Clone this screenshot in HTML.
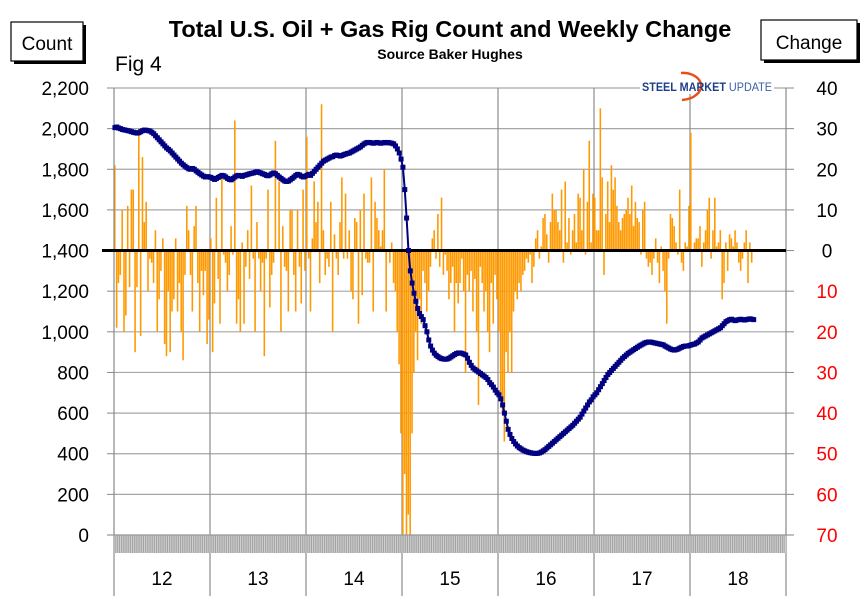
<!DOCTYPE html>
<html><head><meta charset="utf-8"><style>
body{margin:0;background:#fff;width:865px;height:603px;overflow:hidden;font-family:"Liberation Sans",Arial,sans-serif}
svg{display:block}
</style></head><body>
<svg id="chart" width="865" height="603" xmlns="http://www.w3.org/2000/svg">
<g id="grid"></g>
<g id="bars"></g>
<g id="axes"></g>
<g id="line"></g>
<text x="450" y="37" text-anchor="middle" font-size="23.5" font-weight="bold">Total U.S. Oil + Gas Rig Count and Weekly Change</text>
<text x="450" y="59" text-anchor="middle" font-size="14" font-weight="bold">Source Baker Hughes</text>
<text x="115" y="71" font-size="21">Fig 4</text>
<g>
<rect x="14" y="25" width="72" height="39" fill="#000"/>
<rect x="11" y="22" width="72" height="39" fill="#fff" stroke="#000" stroke-width="1.2"/>
<text x="47" y="50" text-anchor="middle" font-size="19">Count</text></g>
<g>
<rect x="764" y="23" width="96" height="40" fill="#000"/>
<rect x="761" y="20" width="96" height="40" fill="#fff" stroke="#000" stroke-width="1.2"/>
<text x="809" y="49" text-anchor="middle" font-size="19">Change</text></g>
<g id="logo">
<rect x="640" y="78" width="134" height="16" fill="#fff"/>
<path d="M681 73 A18 13 0 0 1 696 95 A20 10 0 0 1 682 100" fill="none" stroke="#e8501a" stroke-width="2.5"/>
<text x="642" y="91" font-size="11.5" font-weight="bold" fill="#1d3f8a" textLength="130" lengthAdjust="spacingAndGlyphs">STEEL MARKET <tspan font-weight="normal" fill="#3a5fa8">UPDATE</tspan></text></g>
</svg>
<script>
const years=["12","13","14","15","16","17","18"];
const leftTicks=[0,200,400,600,800,1000,1200,1400,1600,1800,2000,2200];
const rightTicks=[40,30,20,10,0,-10,-20,-30,-40,-50,-60,-70];
const rigCount=[
2005,2008,2003,2000,1996,1994,1992,1990,1988,1985,1982,1980,1978,1980,1985,1990,1993,1992,1990,1988,1982,1975,1965,1955,1945,1935,1925,1915,1905,1898,1890,1880,1870,1860,1850,1840,1830,1822,1815,1808,1802,1800,1804,1800,1792,1785,1778,1772,1766,1762,1764,1762,
1760,1755,1750,1755,1760,1765,1770,1768,1762,1755,1750,1748,1755,1762,1768,1770,1768,1765,1770,1772,1775,1778,1780,1782,1785,1788,1785,1782,1778,1775,1770,1768,1772,1778,1782,1778,1770,1762,1755,1748,1742,1740,1742,1748,1755,1762,1770,1775,1772,1766,1762,1765,
1770,1775,1770,1780,1790,1800,1810,1820,1830,1840,1845,1850,1855,1860,1862,1868,1870,1868,1865,1868,1872,1875,1878,1880,1885,1890,1895,1900,1905,1910,1918,1925,1930,1932,1932,1930,1928,1930,1932,1930,1928,1930,1932,1930,1932,1930,1928,1925,1915,1900,1880,1850,
1810,1700,1560,1400,1300,1240,1190,1150,1115,1090,1075,1060,1030,1000,960,930,910,895,885,878,872,868,866,865,866,870,876,882,888,893,896,896,894,890,886,870,850,835,822,815,808,802,795,788,782,775,765,750,740,728,713,700,
690,670,640,600,560,520,495,475,460,448,438,430,424,418,414,410,407,405,403,402,401,402,404,408,414,420,428,436,444,452,460,468,476,484,492,500,508,516,524,532,540,550,560,570,580,595,610,625,640,655,665,680,
690,700,715,730,745,760,775,790,800,810,820,830,840,850,860,870,878,886,894,900,906,912,918,924,930,935,940,945,948,950,950,948,946,944,942,940,938,936,930,925,920,915,912,910,912,915,920,924,928,930,930,932,
935,938,940,945,950,960,970,975,980,985,990,995,1000,1005,1010,1015,1020,1030,1040,1050,1055,1060,1062,1058,1055,1058,1060,1062,1060,1058,1060,1062,1064,1062,1060];
const weeklyChange=[
21,-19,-8,-6,10,-20,-16,11,-9,15,15,-25,-9,30,-21,23,7,12,-10,-2,-3,-8,5,-20,-12,-5,3,-23,-26,-10,-25,-15,-12,3,-15,-8,-20,-27,-6,11,5,-6,-15,6,11,-8,-20,-5,-11,-5,-23,-17,
3,-25,-13,13,-7,-18,19,-1,-3,-10,-6,6,-1,32,-18,-12,-20,2,-18,-4,5,-7,16,-2,-20,7,-2,-10,-3,-26,-2,15,-14,-6,-3,27,0,17,-20,6,-4,-5,-15,10,10,-6,-15,10,-4,-13,15,-5,
28,-2,-15,3,17,7,12,-8,36,5,-6,-2,-4,12,-20,4,-2,-6,7,18,-2,14,-2,5,-10,-12,8,7,-18,10,-11,14,-2,-3,-3,18,-15,12,8,5,1,5,20,-15,0,-3,2,-8,-10,-20,-28,-45,
-70,-55,-70,-65,-70,-45,-30,-20,-27,-12,-18,-5,-8,-15,-10,-4,3,5,-2,9,-4,13,-6,-1,-5,-12,-8,-4,-20,-8,-13,-8,-2,-10,-30,-6,-10,-5,-15,-7,-20,-38,-4,-8,-15,-10,-20,-25,-8,-18,-6,-12,
-20,-35,-40,-47,-25,-30,-20,-30,-15,-10,-12,-8,-10,-6,-5,-2,-3,-1,-8,-4,3,5,-2,1,8,9,4,-3,7,14,10,10,7,5,15,-3,17,2,8,-1,5,9,2,14,13,5,20,-1,12,27,2,14,
13,5,5,35,18,-6,9,17,7,21,15,18,11,7,5,8,9,10,13,9,16,6,12,8,7,-1,10,12,-2,-4,-3,-6,-2,3,-3,-8,1,-5,-10,-18,-2,9,8,6,2,-1,15,-3,-5,2,1,11,
29,0,2,3,3,6,-4,2,5,10,13,-2,5,13,1,2,5,-12,-8,2,-5,4,3,1,5,2,-3,-5,-2,2,5,-8,2,-3];

const NS="http://www.w3.org/2000/svg";
const X0=114,X1=786,YT=88,YB=535,WPY=52;
const yearW=(X1-X0)/years.length;
const xw=i=>X0+(i+0.5)*yearW/WPY;
const yL=v=>YB-(v/2200)*(YB-YT);
const yR=v=>YT+((40-v)/110)*(YB-YT);
function mk(tag,attrs,parent){const e=document.createElementNS(NS,tag);for(const k in attrs)e.setAttribute(k,attrs[k]);parent.appendChild(e);return e;}
const grid=document.getElementById('grid'),axes=document.getElementById('axes'),bars=document.getElementById('bars'),line=document.getElementById('line');
leftTicks.forEach(v=>{const y=yL(v);
 if(v>0){const g=mk('line',{x1:X0,x2:X1,y1:y,y2:y,stroke:'#a6a6a6','stroke-width':1.2},grid);
 
 }
 mk('line',{x1:X0-7,x2:X0,y1:y,y2:y,stroke:'#888'},axes);
 const t=mk('text',{x:X0-25,y:y+7,'text-anchor':'end','font-size':19},axes);t.textContent=v.toLocaleString('en-US');
 
 });
rightTicks.forEach(v=>{const y=yR(v);
 mk('line',{x1:X1,x2:X1+8,y1:y,y2:y,stroke:'#888'},axes);
 const t=mk('text',{x:X1+41,y:y+7,'text-anchor':'middle','font-size':19,fill:v<0?'#ff0000':'#000'},axes);t.textContent=Math.abs(v);
 
 });
for(let i=0;i<=years.length;i++){const x=X0+i*yearW;
 const g=mk('line',{x1:x,x2:x,y1:YT,y2:596,stroke:'#8c8c8c','stroke-width':1.2},grid);
 
 }
years.forEach((yv,i)=>{const t=mk('text',{x:X0+(i+0.5)*yearW,y:585,'text-anchor':'middle','font-size':19},axes);t.textContent=yv;
 
 });
const hb=mk('rect',{x:X0,y:YB,width:X1-X0,height:18,fill:'#d0d0d0'},axes);


for(let i=0;i<years.length*WPY;i+=1){mk('line',{x1:X0+i*yearW/WPY,x2:X0+i*yearW/WPY,y1:YB,y2:YB+18,stroke:'#9a9a9a','stroke-width':0.8},axes);}
mk('line',{x1:X0-7,x2:X1+8,y1:YB,y2:YB,stroke:'#999','stroke-width':1.2},axes);
mk('line',{x1:X0,x2:X0,y1:YT,y2:YB,stroke:'#888'},axes);
mk('line',{x1:X1,x2:X1,y1:YT,y2:YB,stroke:'#888'},axes);
const bw=yearW/WPY;
weeklyChange.forEach((v,i)=>{const y0=yR(0),y1=yR(v);
 const r=mk('rect',{x:X0+i*bw,y:Math.min(y0,y1),width:bw*0.85,height:Math.abs(y1-y0),fill:'#ff9900'},bars);
 
 });
const z=mk('line',{x1:X0-12,x2:X1,y1:yR(0),y2:yR(0),stroke:'#000','stroke-width':3},axes);


const svg=document.getElementById('chart');
svg.appendChild(line);
svg.appendChild(document.getElementById('logo'));
const pts=rigCount.map((v,i)=>xw(i)+','+yL(v)).join(' ');
const pl=mk('polyline',{points:pts,fill:'none',stroke:'#000080','stroke-width':2},line);


rigCount.forEach((v,i)=>{const m=mk('rect',{x:xw(i)-2.5,y:yL(v)-2.5,width:5,height:5,fill:'#000080'},line);
 
 });
</script>
</body></html>
